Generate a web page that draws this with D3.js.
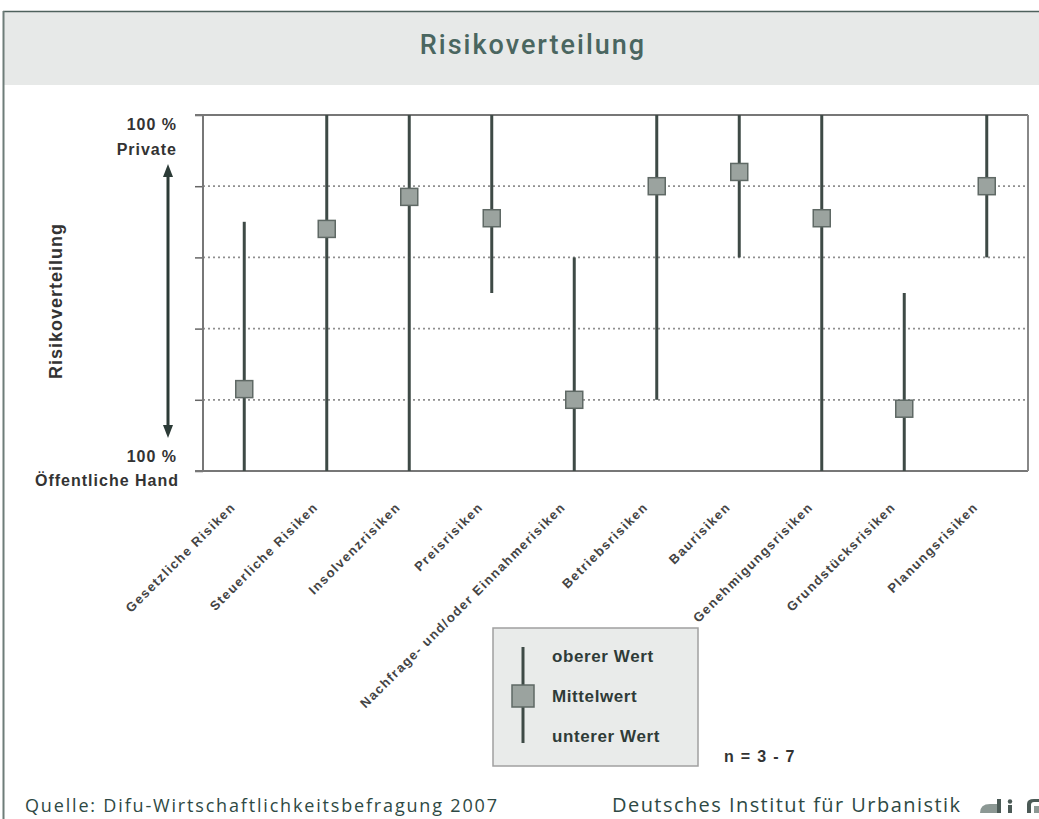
<!DOCTYPE html>
<html>
<head>
<meta charset="utf-8">
<script src="https://cdn.jsdelivr.net/npm/d3@7"></script>
<style>
  html, body { margin: 0; padding: 0; background: #ffffff; }
  svg { display: block; }
</style>
</head>
<body>
<svg id="chart" width="1039" height="819"></svg>
<script>
// Risk categories along the x axis
const categories = [
  "Gesetzliche Risiken",
  "Steuerliche Risiken",
  "Insolvenzrisiken",
  "Preisrisiken",
  "Nachfrage- und/oder Einnahmerisiken",
  "Betriebsrisiken",
  "Baurisiken",
  "Genehmigungsrisiken",
  "Grundstücksrisiken",
  "Planungsrisiken"
];
// Share of risk carried by the private partner (0 = public sector, 100 = private)
const upperValues = [70, 100, 100, 100, 60, 100, 100, 100, 50, 100];
const meanValues  = [23, 68, 77, 71, 20, 80, 84, 71, 17.5, 80];
const lowerValues = [0, 0, 0, 50, 0, 20, 60, 0, 0, 60];
const yTicks = [0, 20, 40, 60, 80, 100];
const legendLabels = ["oberer Wert", "Mittelwert", "unterer Wert"];

const svg = d3.select("#chart");
const sans = "'Liberation Sans', Arial, sans-serif";
const lineCol = "#3e4a46";
const markFill = "#9ba39f";
const markStroke = "#5f6965";

// ---- header band ----
svg.append("rect").attr("x", 3).attr("y", 11).attr("width", 1036).attr("height", 74)
  .attr("fill", "#e7e9e8");
svg.append("line").attr("x1", 3).attr("x2", 1039).attr("y1", 11.5).attr("y2", 11.5)
  .attr("stroke", "#4f625d").attr("stroke-width", 1.5);
svg.append("line").attr("x1", 3.5).attr("x2", 3.5).attr("y1", 11).attr("y2", 819)
  .attr("stroke", "#6e7d79").attr("stroke-width", 2);
svg.append("text").attr("x", 533).attr("y", 54).attr("text-anchor", "middle")
  .attr("font-family", "Roboto, sans-serif").attr("font-weight", 500)
  .attr("font-size", 27).attr("letter-spacing", 2).attr("fill", "#4a6660")
  .text("Risikoverteilung");

// ---- scales ----
const x = d3.scaleBand().domain(categories).range([203, 1028]);
const y = d3.scaleLinear().domain([0, 100]).range([471, 115]);
const cx = d => x(d) + x.bandwidth() / 2;

// ---- grid and ticks ----
const plot = svg.append("g");
plot.selectAll("line.grid").data(yTicks.filter(t => t > 0 && t < 100)).join("line")
  .attr("class", "grid")
  .attr("x1", 203).attr("x2", 1028)
  .attr("y1", d => y(d)).attr("y2", d => y(d))
  .attr("stroke", "#8f8f8f").attr("stroke-width", 1.8)
  .attr("stroke-dasharray", "2,3");

const yAxis = plot.append("g").attr("transform", "translate(203,0)")
  .call(d3.axisLeft(y).tickValues(yTicks).tickSize(8).tickFormat(""));
yAxis.select(".domain").remove();
yAxis.selectAll(".tick line").attr("stroke", "#666").attr("stroke-width", 1.5);

// frame
plot.append("line").attr("x1", 195).attr("x2", 1028).attr("y1", y(100)).attr("y2", y(100))
  .attr("stroke", "#777").attr("stroke-width", 2);
plot.append("line").attr("x1", 195).attr("x2", 1028).attr("y1", y(0)).attr("y2", y(0))
  .attr("stroke", "#777").attr("stroke-width", 2);
plot.append("line").attr("x1", 203).attr("x2", 203).attr("y1", y(100)).attr("y2", y(0))
  .attr("stroke", "#777").attr("stroke-width", 2);
plot.append("line").attr("x1", 1028).attr("x2", 1028).attr("y1", y(100)).attr("y2", y(0))
  .attr("stroke", "#888").attr("stroke-width", 2);

// ---- range lines and mean markers ----
const rows = categories.map((c, i) => ({ c, lo: lowerValues[i], hi: upperValues[i], m: meanValues[i] }));
plot.selectAll("line.range").data(rows).join("line")
  .attr("class", "range")
  .attr("x1", d => cx(d.c)).attr("x2", d => cx(d.c))
  .attr("y1", d => y(d.lo)).attr("y2", d => y(d.hi))
  .attr("stroke", lineCol).attr("stroke-width", 3);
const ms = 17;
plot.selectAll("rect.mean").data(rows).join("rect")
  .attr("class", "mean")
  .attr("x", d => cx(d.c) - ms / 2).attr("y", d => y(d.m) - ms / 2)
  .attr("width", ms).attr("height", ms)
  .attr("fill", markFill).attr("stroke", markStroke).attr("stroke-width", 1.5);

// ---- category labels ----
svg.append("g").selectAll("text").data(categories).join("text")
  .attr("transform", d => `translate(${cx(d) - 8},508) rotate(-45)`)
  .attr("text-anchor", "end")
  .attr("font-family", sans).attr("font-weight", "bold")
  .attr("font-size", 13).attr("letter-spacing", 1.4).attr("fill", "#444")
  .text(d => d);

// ---- y axis annotation ----
const yl = svg.append("g").attr("font-family", sans).attr("font-weight", "bold")
  .attr("font-size", 16).attr("letter-spacing", 1).attr("fill", "#333").attr("text-anchor", "end");
yl.append("text").attr("x", 177).attr("y", 130).text("100 %");
yl.append("text").attr("x", 177).attr("y", 155).text("Private");
yl.append("text").attr("x", 177).attr("y", 462).text("100 %");
yl.append("text").attr("x", 179).attr("y", 486).text("Öffentliche Hand");

svg.append("text").attr("transform", "translate(62,301) rotate(-90)")
  .attr("text-anchor", "middle").attr("font-family", sans).attr("font-weight", "bold")
  .attr("font-size", 18).attr("letter-spacing", 1).attr("fill", "#333")
  .text("Risikoverteilung");

// double-headed arrow between the two poles
const arrowCol = "#2c3b37";
svg.append("line").attr("x1", 168).attr("x2", 168).attr("y1", 172).attr("y2", 430)
  .attr("stroke", arrowCol).attr("stroke-width", 3);
svg.append("path").attr("d", "M168,164 L163,177 L173,177 Z").attr("fill", arrowCol);
svg.append("path").attr("d", "M168,438 L163,425 L173,425 Z").attr("fill", arrowCol);

// ---- legend ----
const lg = svg.append("g");
lg.append("rect").attr("x", 493).attr("y", 628).attr("width", 205).attr("height", 138)
  .attr("fill", "#e9ebea").attr("stroke", "#a0a0a0").attr("stroke-width", 1.5);
lg.append("line").attr("x1", 523).attr("x2", 523).attr("y1", 647).attr("y2", 743)
  .attr("stroke", lineCol).attr("stroke-width", 3);
lg.append("rect").attr("x", 523 - 11).attr("y", 696 - 11).attr("width", 22).attr("height", 22)
  .attr("fill", markFill).attr("stroke", markStroke).attr("stroke-width", 1.5);
lg.selectAll("text").data(legendLabels).join("text")
  .attr("x", 552).attr("y", (d, i) => 662 + i * 40)
  .attr("font-family", sans).attr("font-weight", "bold").attr("font-size", 17)
  .attr("letter-spacing", 0.6).attr("fill", "#2f3b38")
  .text(d => d);

svg.append("text").attr("x", 724).attr("y", 762)
  .attr("font-family", sans).attr("font-weight", "bold").attr("font-size", 16)
  .attr("letter-spacing", 1.3).attr("fill", "#333")
  .text("n = 3 - 7");

// ---- footer ----
svg.append("text").attr("x", 25).attr("y", 812)
  .attr("font-family", "'Open Sans', sans-serif").attr("font-size", 18)
  .attr("fill", "#2e4944").attr("textLength", 472).attr("lengthAdjust", "spacing")
  .text("Quelle: Difu-Wirtschaftlichkeitsbefragung 2007");
svg.append("text").attr("x", 612).attr("y", 812)
  .attr("font-family", "'Open Sans', sans-serif").attr("font-size", 20)
  .attr("fill", "#2e4944").attr("textLength", 348).attr("lengthAdjust", "spacing")
  .text("Deutsches Institut für Urbanistik");

// institute mark
const logo = svg.append("g");
logo.append("path").attr("d", "M980,813 Q980,804 990,804 L997,804 L997,813 Z").attr("fill", "#8c9894");
logo.append("rect").attr("x", 997).attr("y", 799).attr("width", 4).attr("height", 14).attr("fill", "#4b5a56");
logo.append("rect").attr("x", 1008).attr("y", 805).attr("width", 4).attr("height", 8).attr("fill", "#4b5a56");
logo.append("circle").attr("cx", 1010).attr("cy", 801.5).attr("r", 2.2).attr("fill", "#4b5a56");
logo.append("path").attr("d", "M1027,813 L1027,804 Q1027,799 1034,799 L1039,799 L1039,802 L1034,802 Q1031,802 1031,805 L1031,813 Z").attr("fill", "#4b5a56");
logo.append("rect").attr("x", 1034).attr("y", 806).attr("width", 5).attr("height", 7).attr("fill", "#8c9894");
</script>
</body>
</html>
